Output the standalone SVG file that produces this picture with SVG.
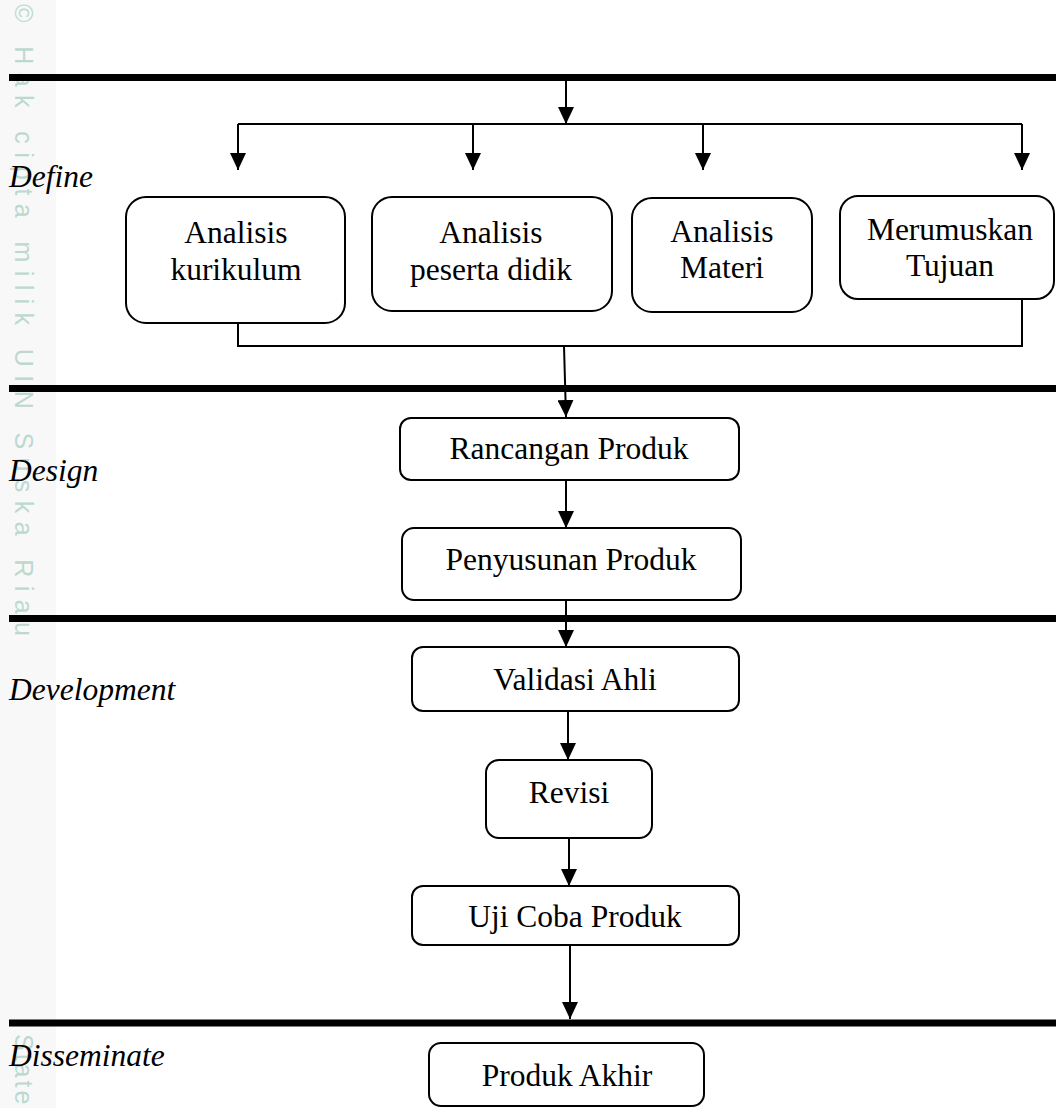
<svg xmlns="http://www.w3.org/2000/svg" width="1056" height="1108" viewBox="0 0 1056 1108">
<style>
.box{fill:#fff;stroke:#000;stroke-width:2}
.t{font-family:"Liberation Serif","Times New Roman",serif;font-size:31.5px;fill:#000;text-anchor:middle}
.ph{font-family:"Liberation Serif","Times New Roman",serif;font-size:31.5px;font-style:italic;fill:#000}
.c{fill:none;stroke:#000;stroke-width:2}
.sep{stroke:#000;stroke-width:7}
.wm{font-family:"Liberation Sans",Arial,sans-serif;font-size:25px;fill:#bcd8cf}
</style>
<defs>
<marker id="ah" viewBox="0 0 17 16" markerWidth="17" markerHeight="16" refX="17" refY="8" orient="auto" markerUnits="userSpaceOnUse">
<path d="M0,0 L17,8 L0,16 z" fill="#000"/>
</marker>
</defs>
<rect x="0" y="0" width="1056" height="1108" fill="#fff"/>
<rect x="0" y="0" width="56" height="1108" fill="#f8f8f8"/>
<g id="watermark">
<text class="wm" transform="translate(15,4) rotate(90)" textLength="632" lengthAdjust="spacing">© Hak cipta milik UIN Suska Riau</text>
<text class="wm" transform="translate(15,1034) rotate(90)" letter-spacing="3">State</text>
</g>
<g id="separators">
<line class="sep" x1="9" y1="77.5" x2="1056" y2="77.5"/>
<line class="sep" x1="9" y1="388.5" x2="1056" y2="388.5"/>
<line class="sep" x1="9" y1="618.5" x2="1056" y2="618.5"/>
<line class="sep" x1="9" y1="1023" x2="1056" y2="1023"/>
</g>
<g id="phases">
<text class="ph" x="9" y="187">Define</text>
<text class="ph" x="9" y="481">Design</text>
<text class="ph" x="9" y="700">Development</text>
<text class="ph" x="9" y="1066">Disseminate</text>
</g>
<g id="connectors">
<line class="c" x1="566" y1="81" x2="566" y2="124" marker-end="url(#ah)"/>
<line class="c" x1="238" y1="124" x2="1022" y2="124"/>
<line class="c" x1="238" y1="124" x2="238" y2="170" marker-end="url(#ah)"/>
<line class="c" x1="473" y1="124" x2="473" y2="170" marker-end="url(#ah)"/>
<line class="c" x1="703" y1="124" x2="703" y2="170" marker-end="url(#ah)"/>
<line class="c" x1="1022" y1="124" x2="1022" y2="170" marker-end="url(#ah)"/>
<polyline class="c" points="238,323 238,346 1022,346 1022,299"/>
<line class="c" x1="564" y1="346" x2="566" y2="417" marker-end="url(#ah)"/>
<line class="c" x1="566" y1="480" x2="566" y2="528" marker-end="url(#ah)"/>
<line class="c" x1="566" y1="600" x2="566" y2="647" marker-end="url(#ah)"/>
<line class="c" x1="568" y1="711" x2="568" y2="760" marker-end="url(#ah)"/>
<line class="c" x1="569" y1="838" x2="569" y2="886" marker-end="url(#ah)"/>
<line class="c" x1="570" y1="945" x2="570" y2="1019" marker-end="url(#ah)"/>
</g>
<g id="analisis-kurikulum">
<rect class="box" x="126" y="197" width="219" height="126" rx="20"/>
<text class="t" x="236" y="243">Analisis</text>
<text class="t" x="236" y="280">kurikulum</text>
</g>
<g id="analisis-peserta">
<rect class="box" x="372" y="197" width="240" height="114" rx="20"/>
<text class="t" x="491" y="243">Analisis</text>
<text class="t" x="491" y="280">peserta didik</text>
</g>
<g id="analisis-materi">
<rect class="box" x="632" y="198" width="180" height="114" rx="20"/>
<text class="t" x="722" y="242">Analisis</text>
<text class="t" x="722" y="278">Materi</text>
</g>
<g id="merumuskan-tujuan">
<rect class="box" x="840" y="196" width="214" height="103" rx="18"/>
<text class="t" x="950" y="240">Merumuskan</text>
<text class="t" x="950" y="276">Tujuan</text>
</g>
<g id="rancangan-produk">
<rect class="box" x="400" y="418" width="339" height="62" rx="11"/>
<text class="t" x="569" y="459">Rancangan Produk</text>
</g>
<g id="penyusunan-produk">
<rect class="box" x="402" y="528" width="339" height="72" rx="12"/>
<text class="t" x="571" y="570">Penyusunan Produk</text>
</g>
<g id="validasi-ahli">
<rect class="box" x="412" y="647" width="327" height="64" rx="11"/>
<text class="t" x="575" y="690">Validasi Ahli</text>
</g>
<g id="revisi">
<rect class="box" x="486" y="760" width="166" height="78" rx="13"/>
<text class="t" x="569" y="803">Revisi</text>
</g>
<g id="uji-coba-produk">
<rect class="box" x="412" y="886" width="327" height="59" rx="11"/>
<text class="t" x="575" y="927">Uji Coba Produk</text>
</g>
<g id="produk-akhir">
<rect class="box" x="429" y="1043" width="275" height="63" rx="12"/>
<text class="t" x="567" y="1086">Produk Akhir</text>
</g>
</svg>
